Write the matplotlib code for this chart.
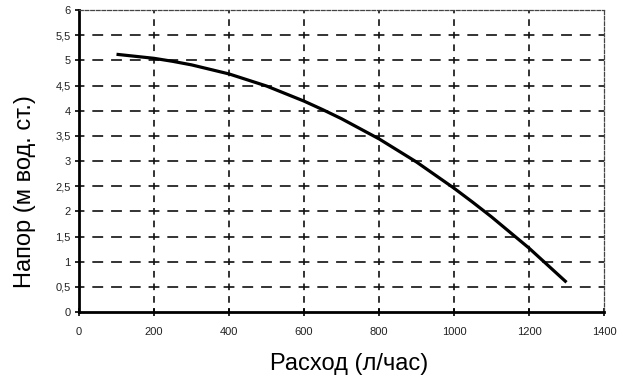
import matplotlib
matplotlib.use("Agg")
import matplotlib.pyplot as plt

# Pump performance curve: flow rate vs. head
flow = [100, 150, 200, 250, 300, 350, 400, 450, 500, 550, 600, 650,
        700, 750, 800, 850, 900, 950, 1000, 1050, 1100, 1150, 1200, 1250, 1300]
head = [5.12, 5.08, 5.04, 4.98, 4.91, 4.82, 4.73, 4.61, 4.49, 4.34, 4.19, 4.02,
        3.84, 3.64, 3.44, 3.21, 2.98, 2.72, 2.46, 2.18, 1.89, 1.58, 1.27, 0.93, 0.59]

x_ticks = [0, 200, 400, 600, 800, 1000, 1200, 1400]
y_ticks = [0, 0.5, 1, 1.5, 2, 2.5, 3, 3.5, 4, 4.5, 5, 5.5, 6]
y_tick_labels = ["0", "0,5", "1", "1,5", "2", "2,5", "3", "3,5", "4", "4,5", "5", "5,5", "6"]

plt.rcParams["font.family"] = ["Liberation Sans", "DejaVu Sans"]

fig = plt.figure(figsize=(6.29, 3.79), dpi=100)
ax = fig.add_axes([79 / 629, 1 - 312 / 379, (604 - 79) / 629, (312 - 10) / 379])

ax.set_xlim(0, 1400)
ax.set_ylim(0, 6)

grid_lw = 1.2
# horizontal dashes: four per 200-unit column, one centred on each crossing
h_on, h_off = 6.5, 4.75
# vertical dashes: two per 0.5-unit row, one centred on each crossing
v_on, v_off = 4.0, 3.55
for xv in x_ticks[1:-1]:
    ax.axvline(xv, color="#111111", lw=grid_lw, ls=(v_on / 2, (v_on, v_off)), zorder=1)
for yv in y_ticks[1:-1]:
    ax.axhline(yv, color="#111111", lw=grid_lw, ls=(h_on / 2, (h_on, h_off)), zorder=1)

ax.plot(flow, head, color="black", lw=2.3, solid_capstyle="butt",
        solid_joinstyle="round", zorder=3)

for side in ["top", "right"]:
    ax.spines[side].set_linestyle((0, (3, 1.5)))
    ax.spines[side].set_linewidth(0.9)
    ax.spines[side].set_color("#444444")
for side in ["left", "bottom"]:
    ax.spines[side].set_linewidth(2.0)
    ax.spines[side].set_color("black")

ax.set_xticks(x_ticks)
ax.set_xticklabels([str(v) for v in x_ticks])
ax.set_yticks(y_ticks)
ax.set_yticklabels(y_tick_labels)
ax.tick_params(axis="both", labelsize=8, width=1.2, color="black",
               labelcolor="#222222")
ax.tick_params(axis="x", direction="inout", length=6, pad=8)
ax.tick_params(axis="y", direction="out", length=3, pad=3)

ax.set_xlabel("Расход (л/час)", fontsize=17)
ax.set_ylabel("Напор (м вод. ст.)", fontsize=17)
ax.xaxis.set_label_coords(0.514, -0.135)
ax.yaxis.set_label_coords(-0.082, 0.40)

fig.savefig("out.png", dpi=100)
